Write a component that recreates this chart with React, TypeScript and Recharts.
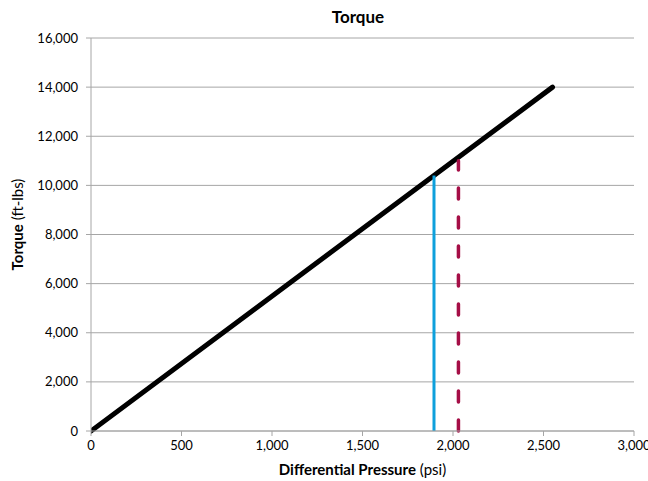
import { LineChart, Line, XAxis, YAxis, CartesianGrid, Label } from "recharts"

const torqueLine = [
  { psi: 0, torque: 0 },
  { psi: 2550, torque: 14000 },
]

const operatingLine = [
  { psi: 1895, torque: 0 },
  { psi: 1895, torque: 10400 },
]

const maxLine = [
  { psi: 2030, torque: 0 },
  { psi: 2030, torque: 11000 },
]

const xTicks = [0, 500, 1000, 1500, 2000, 2500, 3000]
const yTicks = [0, 2000, 4000, 6000, 8000, 10000, 12000, 14000, 16000]

const font = "Lato, 'Noto Sans', sans-serif"
const fmt = (v: number) => v.toLocaleString("en-US")

function YTitle(props: any) {
  const vb = props.viewBox || {}
  const cy = vb.y + vb.height / 2 - 10
  return (
    <text x={17} y={cy} transform={`rotate(-90, 17, ${cy})`} textAnchor="middle" dominantBaseline="central" fontFamily={font} fontSize={15} fill="#000">
      <tspan fontWeight="bold">Torque</tspan>
      <tspan> (ft-lbs)</tspan>
    </text>
  )
}

function XTitle(props: any) {
  const vb = props.viewBox || {}
  const cx = vb.x + vb.width / 2
  return (
    <text x={cx} y={469} textAnchor="middle" dominantBaseline="central" fontFamily={font} fontSize={15} fill="#000">
      <tspan fontWeight="bold">Differential Pressure</tspan>
      <tspan> (psi)</tspan>
    </text>
  )
}

export default function App() {
  return (
    <div style={{ position: "fixed", left: 0, top: 0, width: 648, height: 481, background: "#fff" }}>
      <div style={{ position: "absolute", left: 0, top: 6, width: 648, textAlign: "center", paddingLeft: 68, boxSizing: "border-box", fontFamily: font, fontWeight: "bold", fontSize: 17 }}>
        Torque
      </div>
      <LineChart width={648} height={481} margin={{ top: 38, right: 14, left: 0, bottom: 20 }}>
        <CartesianGrid vertical={false} stroke="#a6a6a6" strokeWidth={1} />
        <XAxis
          type="number"
          dataKey="psi"
          domain={[0, 3000]}
          ticks={xTicks}
          tickFormatter={fmt}
          interval={0}
          height={30}
          stroke="#a6a6a6"
          tickSize={5}
          tickMargin={5}
          tick={{ fill: "#000", fontSize: 13, fontFamily: font }}
          allowDataOverflow
        >
          <Label content={<XTitle />} />
        </XAxis>
        <YAxis
          type="number"
          domain={[0, 16000]}
          ticks={yTicks}
          tickFormatter={fmt}
          interval={0}
          width={91}
          stroke="#a6a6a6"
          tickSize={5}
          tickMargin={8}
          tick={{ fill: "#000", fontSize: 13, fontFamily: font }}
        >
          <Label content={<YTitle />} />
        </YAxis>
        <Line data={torqueLine} dataKey="torque" stroke="#000" strokeWidth={5} dot={false} isAnimationActive={false} strokeLinecap="round" />
        <Line data={operatingLine} dataKey="torque" stroke="#0ea0dc" strokeWidth={3} dot={false} isAnimationActive={false} />
        <Line data={maxLine} dataKey="torque" stroke="#a50e46" strokeWidth={3.5} strokeDasharray="11 18" strokeLinecap="round" dot={false} isAnimationActive={false} />
      </LineChart>
    </div>
  )
}
